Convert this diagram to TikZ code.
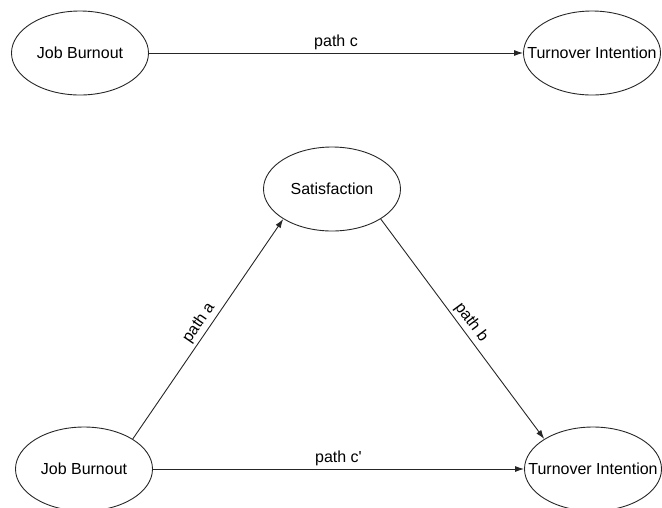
\documentclass[tikz,border=0pt]{standalone}
\usepackage{fontspec}
\setmainfont{Liberation Sans}
\usetikzlibrary{shapes.geometric,arrows.meta}

\newcommand{\ovtext}[1]{\hbox to 0pt{\hss #1\hss}}

\begin{document}
\begin{tikzpicture}[x=1pt,y=-1pt,
  font=\fontsize{16}{19}\selectfont,
  oval/.style={draw=black!85, line width=0.9pt, ellipse, inner sep=0pt,
               minimum width=137pt, minimum height=84pt},
  conn/.style={draw=black!85, line width=0.9pt, -{Latex[length=9pt,width=6pt]}},
  plabel/.style={inner sep=3pt}]

\useasboundingbox (0,0) rectangle (662,507);

% total effect
\node[oval] (burnouttop) at (80,53) {\ovtext{Job Burnout}};
\node[oval] (turnovertop) at (592,53) {\ovtext{Turnover Intention}};

\draw[conn] (burnouttop) -- node[plabel, above] {path c} (turnovertop);

% mediation model
\node[oval] (satisfaction) at (332,189) {\ovtext{Satisfaction}};
\node[oval] (burnoutbot) at (84,469) {\ovtext{Job Burnout}};
\node[oval] (turnoverbot) at (593,469) {\ovtext{Turnover Intention}};

\draw[conn] (burnoutbot.north east) -- node[plabel, above, sloped] {path a} (satisfaction.south west);
\draw[conn] (satisfaction.south east) -- node[plabel, above, sloped] {path b} (turnoverbot.north west);
\draw[conn] (burnoutbot) -- node[plabel, above] {path c\textquotesingle} (turnoverbot);

\end{tikzpicture}
\end{document}
